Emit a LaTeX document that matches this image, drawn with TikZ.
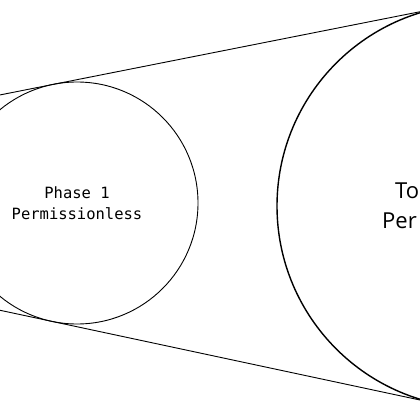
\documentclass[tikz,border=0pt]{standalone}
\usepackage{fontspec}
\newfontfamily\monofont{DejaVu Sans Mono}
\newfontfamily\handfont{Open Sans}
\tikzset{
  ring/.style={circle, draw=black, inner sep=0pt},
  tangent/.style={draw=black, line width=0.9pt},
  smalltext/.style={font=\monofont\fontsize{15.5}{21}\selectfont, align=center, inner sep=0pt},
  bigtext/.style={font=\handfont\fontsize{22}{30}\selectfont, inner sep=0pt, anchor=base west}
}
\begin{document}
\begin{tikzpicture}[x=1pt,y=-1pt]
\useasboundingbox (0,0) rectangle (420,420);
\clip (0,0) rectangle (420,420);
\fill[white] (0,0) rectangle (420,420);
\node[ring, line width=0.9pt, minimum size=242pt] (small) at (77,203) {};
\node[ring, line width=1.4pt, minimum size=404pt] (big) at (479,206) {};
\node[smalltext] (label1) at (77,203) {Phase 1\\Permissionless};
\node[bigtext] (label2a) at (395,198) {To};
\node[bigtext] (label2b) at (382,228) {Per};
\coordinate (topL) at (-20,98.9);
\coordinate (topR) at (439.8,7.8);
\coordinate (botL) at (-20,306.0);
\coordinate (botR) at (436.8,403.6);
\draw[tangent] (topL) -- (topR);
\draw[tangent] (botL) -- (botR);
\end{tikzpicture}
\end{document}
